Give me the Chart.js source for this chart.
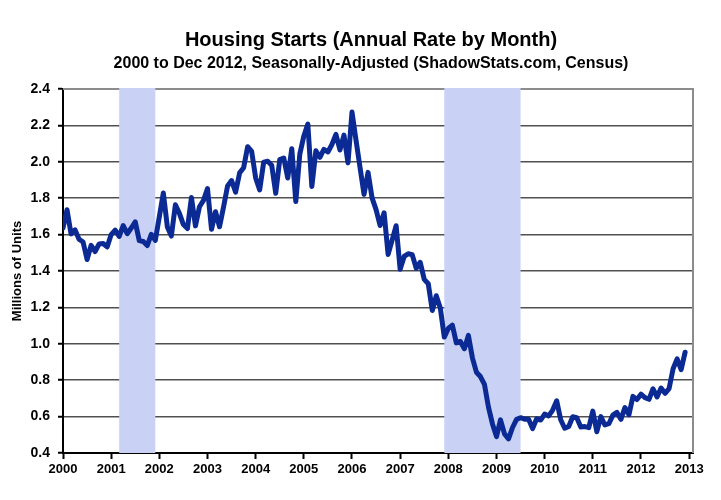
<!DOCTYPE html>
<html>
<head>
<meta charset="utf-8">
<script src="https://cdn.jsdelivr.net/npm/chart.js@4/dist/chart.umd.min.js"></script>
<style>
  html, body { margin: 0; padding: 0; background: #ffffff; }
  #wrap { width: 721px; height: 500px; position: relative; }
</style>
</head>
<body>
<div id="wrap"><canvas id="c" width="721" height="500"></canvas></div>
<script>
// Housing starts, millions of units (SAAR), monthly Jan..Dec
const h2000 = [1.636, 1.737, 1.604, 1.626, 1.575, 1.559, 1.463, 1.541, 1.507, 1.549, 1.551, 1.532];
const h2001 = [1.600, 1.625, 1.590, 1.649, 1.605, 1.636, 1.670, 1.567, 1.562, 1.540, 1.602, 1.568];
const h2002 = [1.698, 1.829, 1.642, 1.592, 1.764, 1.717, 1.655, 1.633, 1.804, 1.648, 1.753, 1.788];
const h2003 = [1.853, 1.629, 1.726, 1.643, 1.751, 1.867, 1.897, 1.833, 1.939, 1.967, 2.083, 2.057];
const h2004 = [1.911, 1.846, 1.998, 2.003, 1.981, 1.827, 2.012, 2.021, 1.911, 2.072, 1.782, 2.042];
const h2005 = [2.142, 2.207, 1.864, 2.061, 2.025, 2.068, 2.054, 2.095, 2.151, 2.065, 2.147, 1.994];
const h2006 = [2.273, 2.119, 1.969, 1.821, 1.942, 1.802, 1.737, 1.650, 1.720, 1.491, 1.570, 1.649];
const h2007 = [1.409, 1.480, 1.495, 1.490, 1.415, 1.448, 1.354, 1.330, 1.183, 1.264, 1.197, 1.037];
const h2008 = [1.084, 1.103, 1.005, 1.013, 0.973, 1.046, 0.923, 0.844, 0.820, 0.777, 0.652, 0.560];
const h2009 = [0.490, 0.582, 0.505, 0.478, 0.540, 0.585, 0.594, 0.586, 0.585, 0.534, 0.588, 0.581];
const h2010 = [0.614, 0.604, 0.636, 0.687, 0.583, 0.536, 0.546, 0.599, 0.594, 0.543, 0.545, 0.539];
const h2011 = [0.630, 0.517, 0.600, 0.554, 0.561, 0.608, 0.623, 0.585, 0.650, 0.610, 0.711, 0.694];
const h2012 = [0.723, 0.704, 0.695, 0.753, 0.708, 0.757, 0.728, 0.754, 0.863, 0.917, 0.858, 0.954];

const dataYears = [2000, 2001, 2002, 2003, 2004, 2005, 2006, 2007, 2008, 2009, 2010, 2011, 2012];
const yearlyStarts = [h2000, h2001, h2002, h2003, h2004, h2005, h2006, h2007, h2008, h2009, h2010, h2011, h2012];

// x-axis tick labels
const yearTicks = [2000, 2001, 2002, 2003, 2004, 2005, 2006, 2007, 2008, 2009, 2010, 2011, 2012, 2013];
// y-axis tick labels
const yTicks = [0.4, 0.6, 0.8, 1.0, 1.2, 1.4, 1.6, 1.8, 2.0, 2.2, 2.4];
// recession periods (decimal years: Mar 2001 - Nov 2001, Dec 2007 - Jun 2009)
const recessionStart = [2001 + 2/12, 2007 + 11/12];
const recessionEnd   = [2001 + 11/12, 2009 + 6/12];

const titleText = 'Housing Starts (Annual Rate by Month)';
const subtitleText = '2000 to Dec 2012, Seasonally-Adjusted (ShadowStats.com, Census)';

const points = [];
dataYears.forEach((yr, yi) => {
  yearlyStarts[yi].forEach((v, m) => points.push({ x: yr + m / 12, y: v }));
});

const FONT = '"Liberation Sans", Arial, sans-serif';

const decorPlugin = {
  id: 'decor',
  beforeDatasetsDraw(chart) {
    const { ctx, chartArea: a, scales: { x } } = chart;
    ctx.save();
    // gray top/right frame
    ctx.strokeStyle = '#8c8c8c';
    ctx.lineWidth = 2;
    ctx.beginPath();
    ctx.moveTo(a.left, a.top);
    ctx.lineTo(a.right, a.top);
    ctx.lineTo(a.right, a.bottom);
    ctx.stroke();
    // recession bands
    ctx.fillStyle = '#c9d1f5';
    recessionStart.forEach((s, i) => {
      const x0 = x.getPixelForValue(s);
      const x1 = x.getPixelForValue(recessionEnd[i]);
      ctx.fillRect(x0, a.top - 1, x1 - x0, a.bottom - a.top + 1);
    });
    ctx.restore();
  },
  afterDraw(chart) {
    const { ctx } = chart;
    ctx.save();
    ctx.fillStyle = '#000000';
    ctx.textAlign = 'center';
    ctx.textBaseline = 'alphabetic';
    ctx.font = 'bold 20px ' + FONT;
    ctx.fillText(titleText, 371, 46);
    ctx.font = 'bold 16px ' + FONT;
    ctx.fillText(subtitleText, 371, 68);
    ctx.restore();
  }
};

new Chart(document.getElementById('c'), {
  type: 'line',
  data: {
    datasets: [{
      data: points,
      borderColor: '#0b2a94',
      borderWidth: 5,
      pointRadius: 0,
      tension: 0,
      borderJoinStyle: 'round',
      borderCapStyle: 'round',
      fill: false
    }]
  },
  options: {
    responsive: false,
    animation: false,
    devicePixelRatio: 1,
    layout: { padding: { left: 0, right: 28, top: 89, bottom: 0 } },
    plugins: {
      legend: { display: false },
      title: { display: false },
      tooltip: { enabled: false }
    },
    scales: {
      x: {
        type: 'linear',
        min: 2000,
        max: 2013.08,
        afterBuildTicks(scale) { scale.ticks = yearTicks.map(v => ({ value: v })); },
        afterFit(scale) { scale.height = 47; },
        grid: { drawOnChartArea: false, drawTicks: true, tickLength: 6, tickColor: '#000000', tickWidth: 2 },
        border: { display: true, color: '#000000', width: 2 },
        ticks: {
          autoSkip: false,
          maxRotation: 0,
          padding: 3,
          color: '#000000',
          font: { family: FONT, size: 13, weight: 'bold' },
          callback: v => String(v)
        }
      },
      y: {
        type: 'linear',
        min: 0.4,
        max: 2.4,
        afterBuildTicks(scale) { scale.ticks = yTicks.map(v => ({ value: v })); },
        afterFit(scale) { scale.width = 63; },
        grid: { color: '#505050', lineWidth: 1.5, drawTicks: true, tickLength: 5, tickColor: '#000000', tickWidth: 2 },
        border: { display: true, color: '#000000', width: 2 },
        title: {
          display: true,
          text: 'Millions of Units',
          color: '#000000',
          font: { family: FONT, size: 13, weight: 'bold' },
          padding: { top: 10, bottom: 0 }
        },
        ticks: {
          padding: 8,
          color: '#000000',
          font: { family: FONT, size: 14, weight: 'bold' },
          callback: v => Number(v).toFixed(1)
        }
      }
    }
  },
  plugins: [decorPlugin]
});
</script>
</body>
</html>
